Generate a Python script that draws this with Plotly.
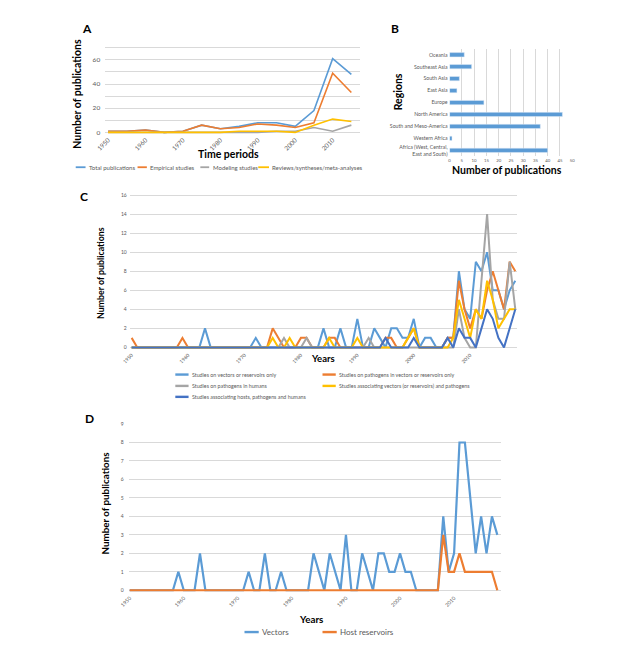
import plotly.graph_objects as go

W, H = 639, 646
FONT = "Lato, sans-serif"
TICK_C = "#595959"
GRID_C = "#d9d9d9"
BLUE, ORANGE, GREY, YELLOW, DBLUE = "#5b9bd5", "#ed7d31", "#a5a5a5", "#ffc000", "#4472c4"

# ---------------- Panel A data ----------------
periods = [1950, 1955, 1960, 1965, 1970, 1975, 1980, 1985, 1990, 1995, 2000, 2005, 2010, 2015]
total_publications = [1, 1, 2, 0, 1, 6, 3, 5, 8, 8, 5, 18, 61, 48]
empirical_studies = [1, 1, 2, 0, 1, 6, 3, 4, 7, 6, 4, 8, 49, 33]
modeling_studies = [0, 0, 0, 0, 0, 0, 0, 0, 0, 1, 1, 4, 1, 6]
reviews_studies = [0, 0, 0, 0, 0, 0, 0, 1, 1, 1, 0, 6, 11, 9]
a_ticks = [1950, 1960, 1970, 1980, 1990, 2000, 2010]

# ---------------- Panel B data ----------------
regions = ["Africa (West, Central,<br>East and South)", "Western Africa", "South and Meso-America",
           "North America", "Europe", "East Asia", "South Asia", "Southeast Asia", "Oceania"]
region_counts = [40, 1, 37, 46, 14, 3, 4, 9, 6]

# ---------------- Panel C data (1950-2018) ----------------
years = list(range(1950, 2019))
vectors_only = ([0, 0, 0, 0, 0, 0, 0, 0, 0, 0] + [0, 0, 0, 2, 0, 0, 0, 0, 0, 0] +
                [0, 0, 1, 0, 0, 0, 0, 0, 0, 0] + [0, 0, 0, 0, 2, 0, 0, 2, 0, 0] +
                [3, 0, 0, 2, 1, 0, 2, 2, 1, 1] + [3, 0, 1, 1, 0, 0, 1, 1, 8, 4] +
                [3, 9, 8, 10, 6, 6, 4, 6, 7])
pathogens_in_vectors = ([1, 0, 0, 0, 0, 0, 0, 0, 0, 1] + [0, 0, 0, 0, 0, 0, 0, 0, 0, 0] +
                        [0, 0, 0, 0, 0, 2, 1, 0, 0, 0] + [1, 1, 0, 0, 0, 1, 1, 0, 0, 0] +
                        [0, 0, 0, 0, 0, 1, 1, 0, 0, 1] + [2, 0, 0, 0, 0, 0, 1, 1, 7, 4] +
                        [2, 4, 3, 6, 8, 6, 4, 9, 8])
pathogens_in_humans = ([0, 0, 0, 0, 0, 0, 0, 0, 0, 0] + [0, 0, 0, 0, 0, 0, 0, 0, 0, 0] +
                       [0, 0, 0, 0, 0, 0, 0, 1, 0, 0] + [0, 1, 0, 0, 0, 0, 0, 0, 0, 0] +
                       [0, 0, 1, 0, 0, 0, 0, 0, 0, 0] + [0, 0, 0, 0, 0, 0, 0, 0, 4, 1] +
                       [0, 0, 7, 14, 5, 3, 3, 9, 4])
vectors_and_pathogens = ([0, 0, 0, 0, 0, 0, 0, 0, 0, 0] + [0, 0, 0, 0, 0, 0, 0, 0, 0, 0] +
                         [0, 0, 0, 0, 0, 1, 0, 0, 1, 0] + [0, 0, 0, 0, 0, 1, 0, 0, 0, 0] +
                         [1, 0, 0, 0, 0, 0, 0, 0, 0, 1] + [2, 0, 0, 0, 0, 0, 0, 1, 5, 3] +
                         [1, 4, 3, 7, 5, 2, 3, 4, 4])
hosts_pathogens_humans = ([0, 0, 0, 0, 0, 0, 0, 0, 0, 0] + [0, 0, 0, 0, 0, 0, 0, 0, 0, 0] +
                          [0, 0, 0, 0, 0, 0, 0, 0, 0, 0] + [0, 0, 0, 0, 0, 0, 0, 0, 0, 0] +
                          [0, 0, 0, 0, 0, 1, 0, 0, 0, 0] + [1, 0, 0, 0, 0, 0, 1, 0, 2, 1] +
                          [1, 0, 2, 4, 3, 1, 0, 2, 4])
decade_ticks = [1950, 1960, 1970, 1980, 1990, 2000, 2010]

# ---------------- Panel D data (1950-2018) ----------------
vectors = ([0, 0, 0, 0, 0, 0, 0, 0, 0, 1] + [0, 0, 0, 2, 0, 0, 0, 0, 0, 0] +
           [0, 0, 1, 0, 0, 2, 0, 0, 1, 0] + [0, 0, 0, 0, 2, 1, 0, 2, 1, 0] +
           [3, 0, 0, 2, 1, 0, 2, 2, 1, 1] + [2, 1, 1, 0, 0, 0, 0, 0, 4, 1] +
           [2, 8, 8, 5, 2, 4, 2, 4, 3])
host_reservoirs = ([0] * 10 + [0] * 10 + [0] * 10 + [0] * 10 + [0] * 10 +
                   [0, 0, 0, 0, 0, 0, 0, 0, 3, 1] + [1, 2, 1, 1, 1, 1, 1, 1, 0])

# ---------------- helpers (pixel layout -> paper) ----------------
def xdom(a, b):
    return [a / W, b / W]

def ydom(top, bottom):
    return [1 - bottom / H, 1 - top / H]

def rng(v0, p0, px_per_unit, pa, pb):
    return [v0 + (pa - p0) / px_per_unit, v0 + (pb - p0) / px_per_unit]

def px(x):
    return x / W

def py(y):
    return 1 - y / H

fig = go.Figure()

# Panel A traces
for name, vals, col in [("Total publications", total_publications, BLUE),
                        ("Empirical studies", empirical_studies, ORANGE),
                        ("Modeling studies", modeling_studies, GREY),
                        ("Reviews/syntheses/meta-analyses", reviews_studies, YELLOW)]:
    fig.add_trace(go.Scatter(x=periods, y=vals, mode="lines", name=name,
                             line=dict(color=col, width=1.6), xaxis="x", yaxis="y",
                             showlegend=False))

# Panel B
fig.add_trace(go.Bar(y=regions, x=region_counts, orientation="h", marker_color=BLUE,
                     width=0.36, xaxis="x2", yaxis="y2", showlegend=False))

# Panel C
for name, vals, col in [("Studies on vectors or reservoirs only", vectors_only, BLUE),
                        ("Studies on pathogens in vectors or reservoirs only", pathogens_in_vectors, ORANGE),
                        ("Studies on pathogens in humans", pathogens_in_humans, GREY),
                        ("Studies associating vectors (or reservoirs) and pathogens", vectors_and_pathogens, YELLOW),
                        ("Studies associating hosts, pathogens and humans", hosts_pathogens_humans, DBLUE)]:
    fig.add_trace(go.Scatter(x=years, y=vals, mode="lines", name=name,
                             line=dict(color=col, width=2), xaxis="x3", yaxis="y3",
                             showlegend=False))

# Panel D
for name, vals, col in [("Vectors", vectors, BLUE), ("Host reservoirs", host_reservoirs, ORANGE)]:
    fig.add_trace(go.Scatter(x=years, y=vals, mode="lines", name=name,
                             line=dict(color=col, width=2.2), xaxis="x4", yaxis="y4",
                             showlegend=False))

tickfont = lambda s: dict(family=FONT, size=s, color=TICK_C)

layout = dict(
    width=W, height=H, margin=dict(l=0, r=0, t=0, b=0),
    paper_bgcolor="white", plot_bgcolor="white",
    font=dict(family=FONT, color="#000"),
    # A
    xaxis=dict(domain=xdom(98, 358), range=rng(1950, 101, 19.07 / 5, 98, 358),
               tickvals=a_ticks, ticktext=[str(t) for t in a_ticks], tickangle=-45,
               showgrid=False, zeroline=False, showline=False, ticks="",
               tickfont=tickfont(6.3), anchor="y"),
    yaxis=dict(domain=ydom(44, 133), range=rng(0, 131, -85 / 70, 133, 44),
               tickvals=list(range(0, 80, 10)),
               ticktext=["0", "", "20", "", "40", "", "60", ""],
               showgrid=True, gridcolor=GRID_C, gridwidth=1, zeroline=False,
               showline=False, ticks="", tickfont=tickfont(6.5), anchor="x",
               ticklabelstandoff=4),
    # B
    xaxis2=dict(domain=xdom(449, 574), range=[0, 50], dtick=5, tick0=0,
                showgrid=True, gridcolor=GRID_C, gridwidth=1, zeroline=False,
                showline=False, ticks="", tickfont=tickfont(4.3), anchor="y2"),
    yaxis2=dict(domain=ydom(47, 155), range=[-0.5, 8.5], type="category",
                showgrid=False, zeroline=False, showline=False, ticks="",
                tickfont=tickfont(5.2), anchor="x2", ticklabelstandoff=1),
    # C
    xaxis3=dict(domain=xdom(123, 518), range=rng(1950, 125, 5.75, 123, 518),
                tickvals=decade_ticks, tickangle=-45, showgrid=False, zeroline=False,
                showline=False, ticks="", tickfont=tickfont(5), anchor="y3"),
    yaxis3=dict(domain=ydom(192, 350), range=rng(0, 347, -153 / 16, 350, 192),
                tickvals=list(range(0, 18, 2)), showgrid=True, gridcolor=GRID_C,
                gridwidth=1, zeroline=False, showline=False, ticks="",
                tickfont=tickfont(5), anchor="x3", ticklabelstandoff=2),
    # D
    xaxis4=dict(domain=xdom(122, 501), range=rng(1950, 123, 5.51, 122, 501),
                tickvals=decade_ticks, tickangle=-45, showgrid=False, zeroline=False,
                showline=False, ticks="", tickfont=tickfont(5.2), anchor="y4"),
    yaxis4=dict(domain=ydom(423, 594), range=rng(0, 591, -167 / 9, 594, 423),
                tickvals=list(range(0, 10)), showgrid=True, gridcolor=GRID_C,
                gridwidth=1, zeroline=False, showline=False, ticks="",
                tickfont=tickfont(5), anchor="x4", ticklabelstandoff=4),
)

ann = []
def text(x, y, s, size, bold=False, color="#000", angle=0, xanchor="center", yanchor="middle"):
    ann.append(dict(x=px(x), y=py(y), xref="paper", yref="paper", text=(f"<b>{s}</b>" if bold else s),
                    showarrow=False, textangle=angle, xanchor=xanchor, yanchor=yanchor,
                    font=dict(family=FONT, size=size, color=color)))

# panel letters
text(79, 27, "A", 12, True)
text(393, 27, "B", 12, True)
text(76, 195, "C", 12, True)
text(82, 418, "D", 12, True)

# axis titles
text(68.5, 92, "Number of publications", 10.5, True, angle=-90)
text(223.5, 153, "Time periods", 10.5, True)
text(396.7, 90.5, "Regions", 10.5, True, angle=-90)
text(507.5, 169, "Number of publications", 10.5, True)
text(94, 272, "Number of publications", 8.8, True, angle=-90)
text(320.5, 358, "Years", 9.5, True)
text(97.7, 504, "Number of publications", 9.8, True, angle=-90)
text(307.5, 620, "Years", 9.8, True)

shapes = []
def key(x0, x1, y, col, w, label, size):
    shapes.append(dict(type="line", xref="paper", yref="paper", x0=px(x0), x1=px(x1),
                       y0=py(y), y1=py(y), line=dict(color=col, width=w)))
    text(x1 + 1.5, y, label, size, color=TICK_C, xanchor="left")

# legend A
key(68, 78, 166, BLUE, 1.8, "Total publications", 6)
key(131, 140.5, 166, ORANGE, 1.8, "Empirical studies", 6)
key(195, 204, 166, GREY, 1.8, "Modeling studies", 6)
key(254, 265, 166, YELLOW, 1.8, "Reviews/syntheses/meta-analyses", 6)

# legend C
key(169.5, 183, 374.3, BLUE, 2.4, "Studies on vectors or reservoirs only", 5.3)
key(319.5, 333, 374.3, ORANGE, 2.4, "Studies on pathogens in vectors or reservoirs only", 5.3)
key(169.5, 183, 385.7, GREY, 2.4, "Studies on pathogens in humans", 5.3)
key(319.5, 333, 385.7, YELLOW, 2.4, "Studies associating vectors (or reservoirs) and pathogens", 5.3)
key(169.5, 183, 396.7, DBLUE, 2.4, "Studies associating hosts, pathogens and humans", 5.3)

# legend D
key(240, 254.5, 633, BLUE, 2.4, "Vectors", 8)
key(319.5, 334, 633, ORANGE, 2.4, "Host reservoirs", 8)

layout["annotations"] = ann
layout["shapes"] = shapes
fig.update_layout(**layout)
fig.write_html("out.html")
